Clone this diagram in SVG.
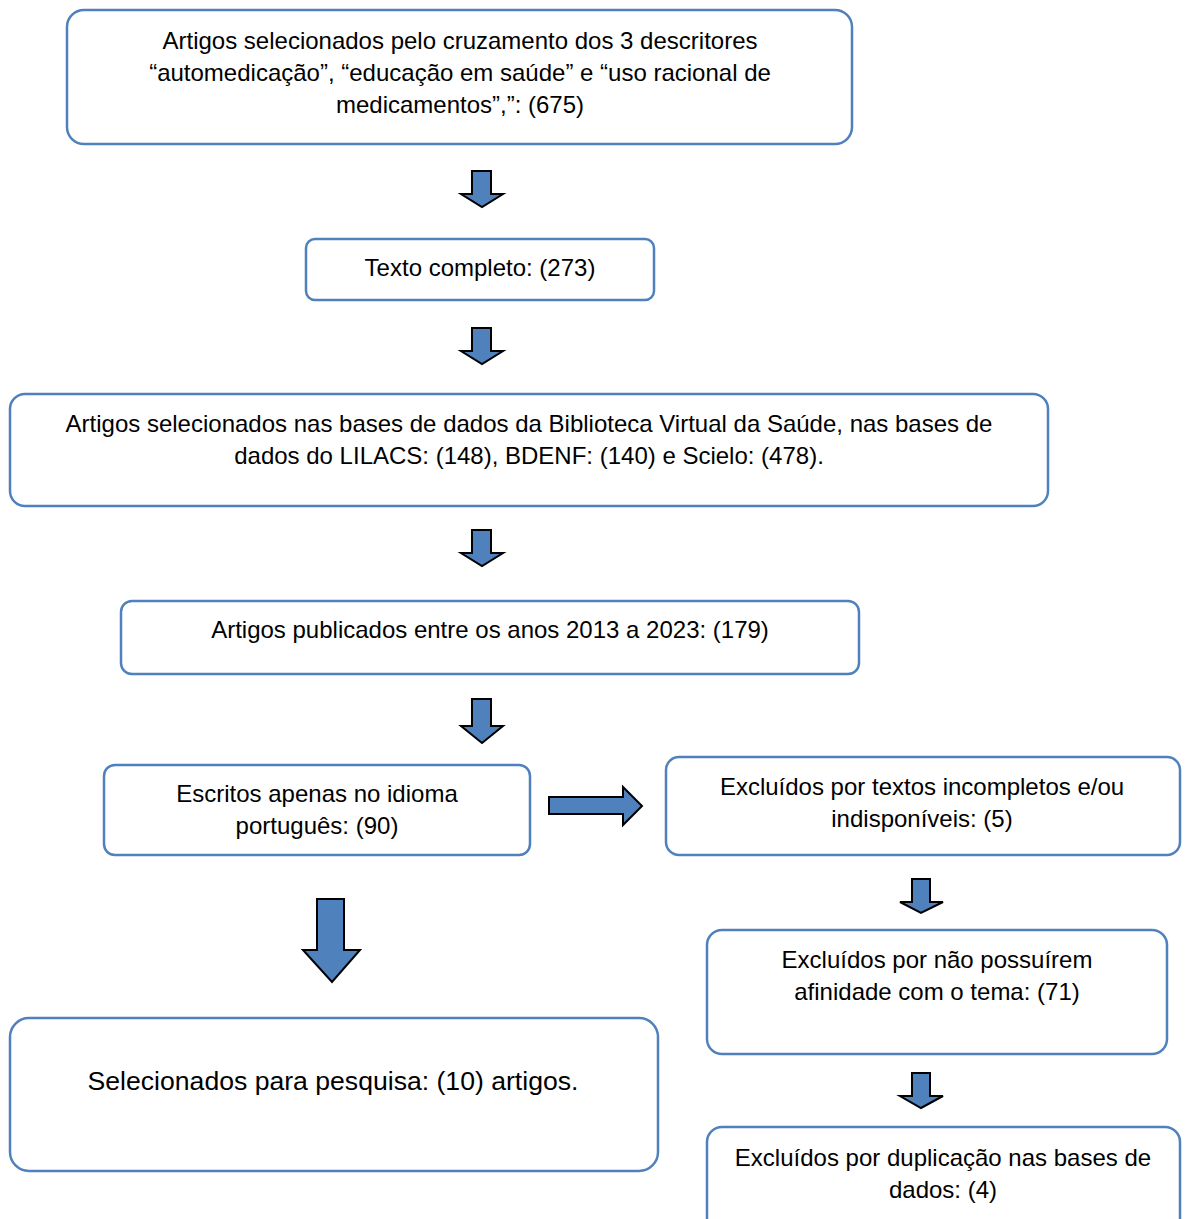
<svg xmlns="http://www.w3.org/2000/svg" width="1187" height="1219" viewBox="0 0 1187 1219">
<style>
.box{fill:#fff;stroke:#4f81bd;stroke-width:2.5}
.arr{fill:#4f81bd;stroke:#000;stroke-width:2;stroke-linejoin:miter}
text{font-family:"Liberation Sans",Arial,sans-serif;font-size:24px;fill:#000;text-anchor:middle}
.big{font-size:26.6px}
</style>
<rect width="1187" height="1219" fill="#fff"/>
<g id="n1"><rect class="box" x="67" y="10" width="785" height="134" rx="17"/>
<text x="460" y="49">Artigos selecionados pelo cruzamento dos 3 descritores</text>
<text x="460" y="81">“automedicação”, “educação em saúde” e “uso racional de</text>
<text x="460" y="113">medicamentos”,”: (675)</text></g>
<g id="n2"><rect class="box" x="306" y="239" width="348" height="61" rx="9"/>
<text x="480" y="276">Texto completo: (273)</text></g>
<g id="n3"><rect class="box" x="10" y="394" width="1038" height="112" rx="15"/>
<text x="529" y="432">Artigos selecionados nas bases de dados da Biblioteca Virtual da Saúde, nas bases de</text>
<text x="529" y="464">dados do LILACS: (148), BDENF: (140) e Scielo: (478).</text></g>
<g id="n4"><rect class="box" x="121" y="601" width="738" height="73" rx="11"/>
<text x="490" y="638">Artigos publicados entre os anos 2013 a 2023: (179)</text></g>
<g id="n5"><rect class="box" x="104" y="765" width="426" height="90" rx="11"/>
<text x="317" y="802">Escritos apenas no idioma</text>
<text x="317" y="834">português: (90)</text></g>
<g id="n6"><rect class="box" x="666" y="757" width="514" height="98" rx="13"/>
<text x="922" y="795">Excluídos por textos incompletos e/ou</text>
<text x="922" y="827">indisponíveis: (5)</text></g>
<g id="n7"><rect class="box" x="707" y="930" width="460" height="124" rx="15"/>
<text x="937" y="968">Excluídos por não possuírem</text>
<text x="937" y="1000">afinidade com o tema: (71)</text></g>
<g id="n8"><rect class="box" x="707" y="1127" width="473" height="110" rx="15"/>
<text x="943" y="1166">Excluídos por duplicação nas bases de</text>
<text x="943" y="1198">dados: (4)</text></g>
<g id="n9"><rect class="box" x="10" y="1018" width="648" height="153" rx="19"/>
<text class="big" x="333" y="1090">Selecionados para pesquisa: (10) artigos.</text></g>
<g id="connectors">
<path class="arr" d="M472,171H491V194H503L482,207L461,194H472Z"/>
<path class="arr" d="M472,328H491V351H503L482,364L461,351H472Z"/>
<path class="arr" d="M472,530H491V553H503L482,566L461,553H472Z"/>
<path class="arr" d="M472,699H491V726H503L482,743L461,726H472Z"/>
<path class="arr" d="M549,797H623V787L642,806L623,825V814H549Z"/>
<path class="arr" d="M912,879H930V902H943L921,913L900,902H912Z"/>
<path class="arr" d="M912,1073H930V1096H943L921,1108L900,1096H912Z"/>
<path class="arr" d="M317,899H344V950H360L332,982L303,950H317Z"/>
</g>
</svg>
